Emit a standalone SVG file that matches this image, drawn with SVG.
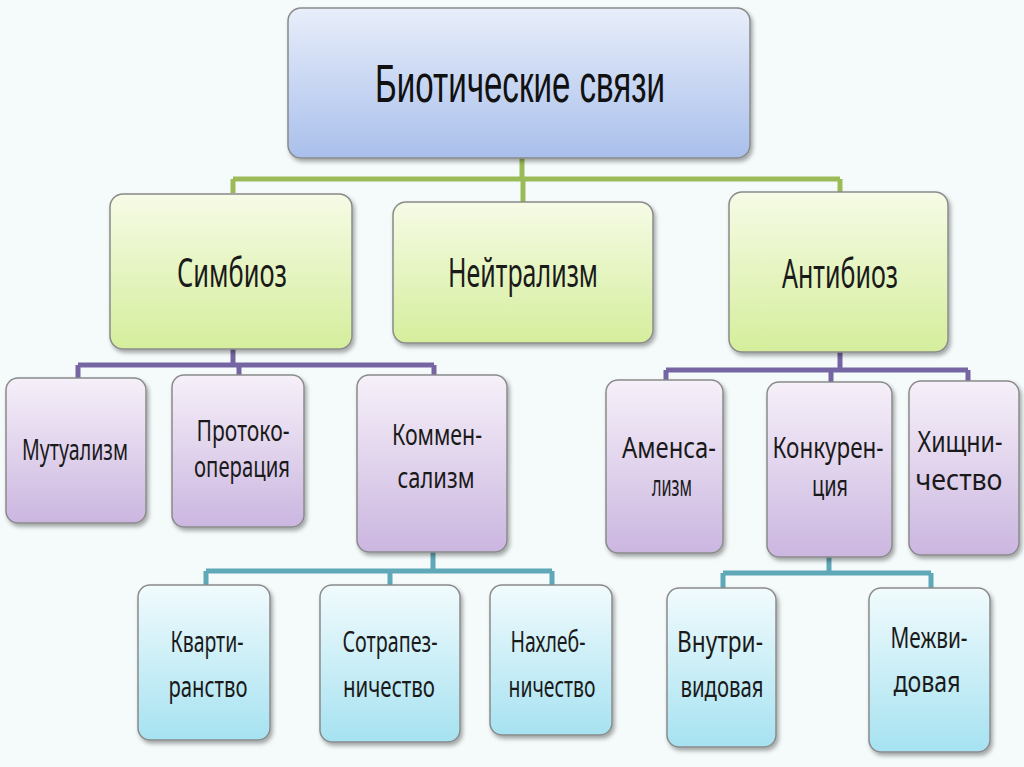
<svg xmlns="http://www.w3.org/2000/svg" width="1024" height="767" viewBox="0 0 1024 767">
<defs>
<linearGradient id="gBlue" x1="0" y1="0" x2="0" y2="1"><stop offset="0" stop-color="#e8eefa"/><stop offset="1" stop-color="#a9bfeb"/></linearGradient>
<linearGradient id="gGreen" x1="0" y1="0" x2="0" y2="1"><stop offset="0" stop-color="#f6fbe6"/><stop offset="1" stop-color="#d5ee9c"/></linearGradient>
<linearGradient id="gPurple" x1="0" y1="0" x2="0" y2="1"><stop offset="0" stop-color="#f6f0f9"/><stop offset="1" stop-color="#cbb6e0"/></linearGradient>
<linearGradient id="gCyan" x1="0" y1="0" x2="0" y2="1"><stop offset="0" stop-color="#f1fbfd"/><stop offset="1" stop-color="#a6e2f1"/></linearGradient>
<filter id="sh" x="-10%" y="-10%" width="130%" height="130%"><feDropShadow dx="2" dy="3" stdDeviation="2" flood-color="#000" flood-opacity="0.35"/></filter>
</defs>
<style>
.box{stroke:#8a8a8a;stroke-width:1.5;filter:url(#sh)}
.b{fill:url(#gBlue)}.g{fill:url(#gGreen)}.p{fill:url(#gPurple)}.c{fill:url(#gCyan)}
text{font-family:"Noto Sans","Open Sans",sans-serif;fill:#1a1a1a;text-anchor:middle}
.t1{font-family:"Liberation Sans",Arial,sans-serif;font-size:54px;fill:#111}
.t2{font-size:40px}
.t3{font-size:29px}
.lg{stroke:#9bbb59;stroke-width:5;fill:none}
.lp{stroke:#7566a3;stroke-width:5;fill:none}
.lt{stroke:#5ea8b8;stroke-width:5;fill:none}
</style>
<rect width="1024" height="767" fill="#f5fbfb"/>
<g id="connectors">
<path class="lg" d="M522 158V179M233 179H840M233 179V193M523 179V202M840 179V192"/>
<path class="lp" d="M233 349V365M78 365H434M78 365V378M239 365V375M434 365V375"/>
<path class="lp" d="M840 352V370M666 370H968M666 370V380M831 370V382M968 370V382"/>
<path class="lt" d="M433 552V571M206 571H552M206 571V585M390 571V585M552 571V585"/>
<path class="lt" d="M829 557V573M723 573H931M723 573V588M931 573V588"/>
</g>
<g id="n-root"><rect class="box b" x="288" y="8" width="462" height="150" rx="13"/><text class="t1" x="520" y="102" textLength="290" lengthAdjust="spacingAndGlyphs">Биотические связи</text></g>
<g id="n-simbioz"><rect class="box g" x="110" y="194" width="242" height="155" rx="13"/><text class="t2" x="232" y="287" textLength="110" lengthAdjust="spacingAndGlyphs">Симбиоз</text></g>
<g id="n-neitr"><rect class="box g" x="393" y="202" width="260" height="141" rx="13"/><text class="t2" x="523" y="287" textLength="150" lengthAdjust="spacingAndGlyphs">Нейтрализм</text></g>
<g id="n-antibioz"><rect class="box g" x="729" y="192" width="219" height="160" rx="13"/><text class="t2" x="840" y="288" textLength="116" lengthAdjust="spacingAndGlyphs">Антибиоз</text></g>
<g id="n-mutual"><rect class="box p" x="6" y="378" width="140" height="145" rx="12"/><text class="t3" x="75" y="460" textLength="106" lengthAdjust="spacingAndGlyphs">Мутуализм</text></g>
<g id="n-proto"><rect class="box p" x="172" y="375" width="132" height="152" rx="12"/><text class="t3" x="243" y="441" textLength="93" lengthAdjust="spacingAndGlyphs">Протоко-</text><text class="t3" x="242" y="477" textLength="96" lengthAdjust="spacingAndGlyphs">операция</text></g>
<g id="n-kommen"><rect class="box p" x="357" y="375" width="150" height="177" rx="12"/><text class="t3" x="437" y="445" textLength="90" lengthAdjust="spacingAndGlyphs">Коммен-</text><text class="t3" x="436" y="488" textLength="77" lengthAdjust="spacingAndGlyphs">сализм</text></g>
<g id="n-amensa"><rect class="box p" x="606" y="380" width="117" height="173" rx="12"/><text class="t3" x="669" y="458" textLength="94" lengthAdjust="spacingAndGlyphs">Аменса-</text><text class="t3" x="672" y="496" textLength="40" lengthAdjust="spacingAndGlyphs">лизм</text></g>
<g id="n-konkur"><rect class="box p" x="767" y="382" width="125" height="175" rx="12"/><text class="t3" x="828" y="458" textLength="111" lengthAdjust="spacingAndGlyphs">Конкурен-</text><text class="t3" x="830" y="496" textLength="36" lengthAdjust="spacingAndGlyphs">ция</text></g>
<g id="n-khishch"><rect class="box p" x="909" y="381" width="110" height="174" rx="12"/><text class="t3" x="960" y="452" textLength="85" lengthAdjust="spacingAndGlyphs">Хищни-</text><text class="t3" x="959" y="490" textLength="87" lengthAdjust="spacingAndGlyphs">чество</text></g>
<g id="n-kvarti"><rect class="box c" x="138" y="585" width="132" height="155" rx="12"/><text class="t3" x="207" y="652" textLength="73" lengthAdjust="spacingAndGlyphs">Кварти-</text><text class="t3" x="208" y="697" textLength="79" lengthAdjust="spacingAndGlyphs">ранство</text></g>
<g id="n-sotrap"><rect class="box c" x="320" y="585" width="140" height="157" rx="12"/><text class="t3" x="390" y="652" textLength="95" lengthAdjust="spacingAndGlyphs">Сотрапез-</text><text class="t3" x="389" y="697" textLength="92" lengthAdjust="spacingAndGlyphs">ничество</text></g>
<g id="n-nakhleb"><rect class="box c" x="490" y="585" width="122" height="150" rx="12"/><text class="t3" x="548" y="652" textLength="75" lengthAdjust="spacingAndGlyphs">Нахлеб-</text><text class="t3" x="552" y="697" textLength="87" lengthAdjust="spacingAndGlyphs">ничество</text></g>
<g id="n-vnutri"><rect class="box c" x="667" y="588" width="109" height="159" rx="12"/><text class="t3" x="720" y="652" textLength="86" lengthAdjust="spacingAndGlyphs">Внутри-</text><text class="t3" x="722" y="697" textLength="83" lengthAdjust="spacingAndGlyphs">видовая</text></g>
<g id="n-mezhvi"><rect class="box c" x="869" y="588" width="121" height="164" rx="12"/><text class="t3" x="929" y="648" textLength="77" lengthAdjust="spacingAndGlyphs">Межви-</text><text class="t3" x="927" y="692" textLength="67" lengthAdjust="spacingAndGlyphs">довая</text></g>
</svg>
